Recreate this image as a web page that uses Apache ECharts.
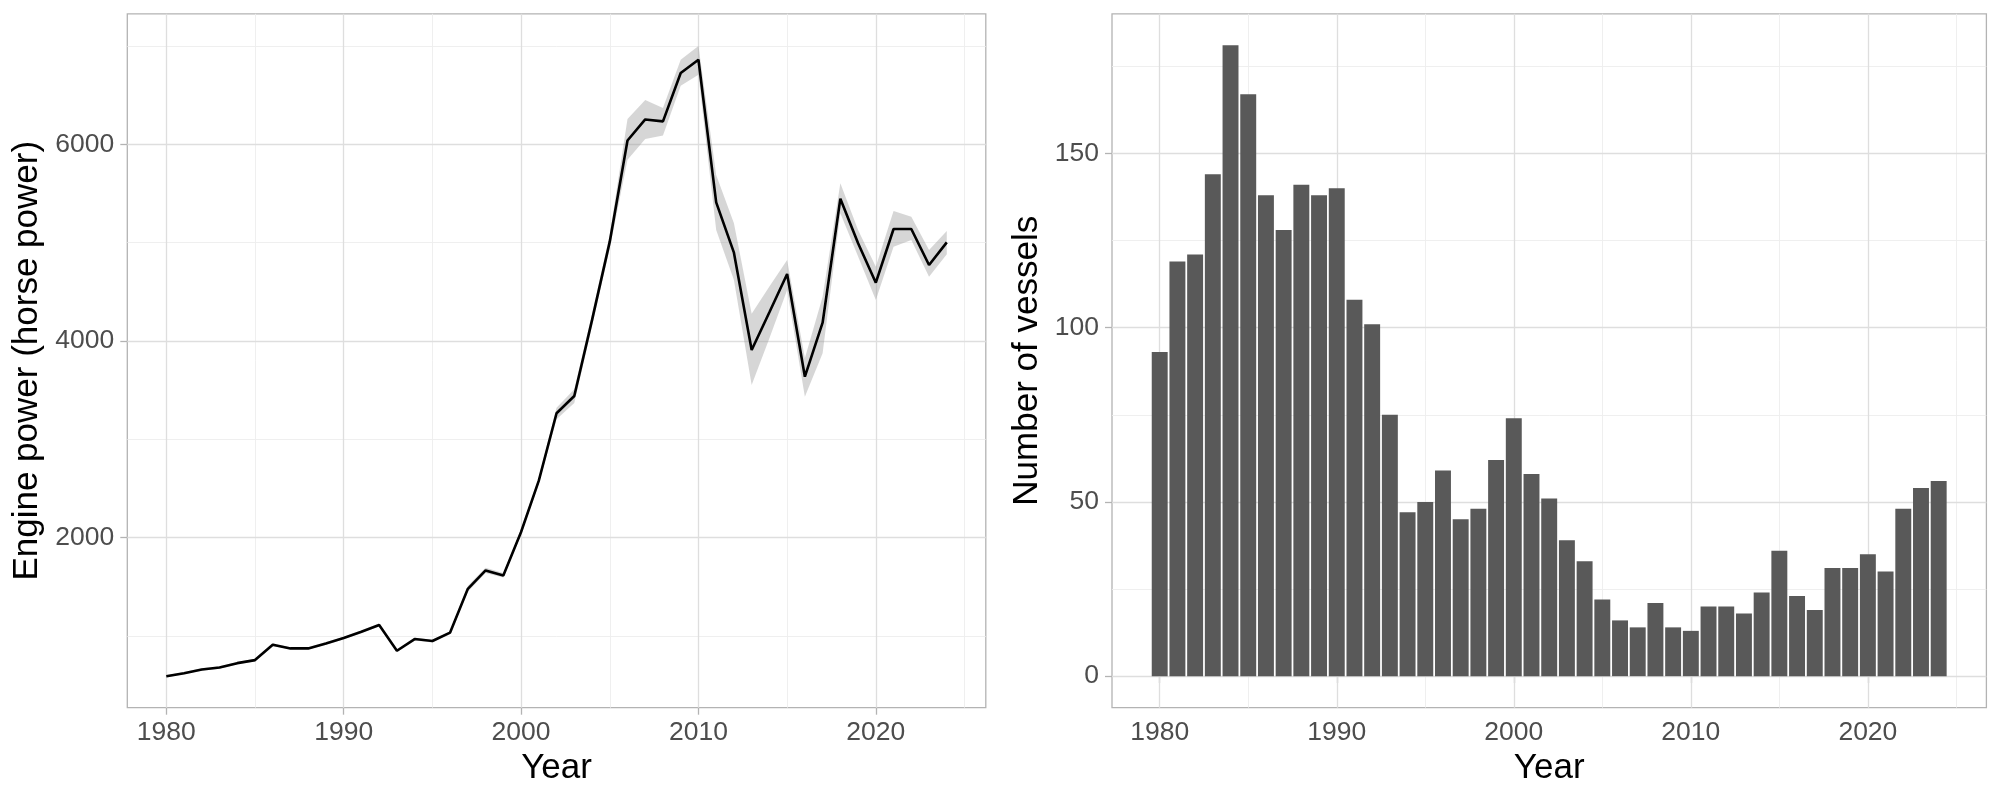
<!DOCTYPE html>
<html><head><meta charset="utf-8">
<script src="https://cdn.jsdelivr.net/npm/echarts@6/dist/echarts.min.js"></script>
<style>html,body{margin:0;padding:0;background:#fff}#c{width:2000px;height:800px}</style>
</head><body><div id="c"></div>
<script>
const years = [1980,1981,1982,1983,1984,1985,1986,1987,1988,1989,1990,1991,1992,1993,1994,1995,1996,1997,1998,1999,2000,2001,2002,2003,2004,2005,2006,2007,2008,2009,2010,2011,2012,2013,2014,2015,2016,2017,2018,2019,2020,2021,2022,2023,2024];
const enginePower = [590,622,660,680,724,755,912,874,874,925,980,1044,1112,850,969,949,1035,1480,1667,1616,2058,2580,3265,3440,4212,5010,6039,6253,6233,6725,6860,5410,4898,3908,4292,4681,3637,4186,5447,4993,4593,5139,5139,4773,5003];
const powerLower = [578,610,648,668,712,742,898,862,862,912,967,1030,1097,836,955,935,1020,1450,1640,1595,2030,2545,3205,3370,4150,4940,5842,6053,6090,6596,6708,5129,4620,3553,4027,4519,3434,3875,5298,4858,4417,4959,5027,4654,4881];
const powerUpper = [602,634,672,692,736,768,926,886,886,938,993,1058,1127,864,983,963,1050,1510,1695,1640,2085,2615,3320,3510,4275,5080,6256,6450,6368,6861,7000,5688,5197,4278,4553,4824,3825,4451,5603,5129,4756,5322,5264,4925,5119];
const vessels = [93,119,121,144,181,167,138,128,141,138,140,108,101,75,47,50,59,45,48,62,74,58,51,39,33,22,16,14,21,14,13,20,20,18,24,36,23,19,31,31,35,30,48,54,56];

const xMajorTicks = [1980,1990,2000,2010,2020];
const xMinorTicks = [1985,1995,2005,2015,2025];
const powerMajorTicks = [2000,4000,6000];
const powerMinorTicks = [1000,3000,5000,7000];
const vesselMajorTicks = [0,50,100,150];
const vesselMinorTicks = [25,75,125,175];

const FONT = "'Liberation Sans', Arial, sans-serif";
const MAJOR = {color:'#DEDEDE', width:1.3, type:'solid'};
const MINOR = {color:'#EDEDED', width:0.9, type:'solid'};

function gridLineSeries(idx, xMaj, xMin, yMaj, yMin){
  const d = [];
  xMin.forEach(v => d.push({xAxis:v, lineStyle:MINOR}));
  yMin.forEach(v => d.push({yAxis:v, lineStyle:MINOR}));
  xMaj.forEach(v => d.push({xAxis:v, lineStyle:MAJOR}));
  yMaj.forEach(v => d.push({yAxis:v, lineStyle:MAJOR}));
  return {type:'line', xAxisIndex:idx, yAxisIndex:idx, data:[], z:1, silent:true,
    markLine:{silent:true, symbol:['none','none'], z:1, animation:false,
      label:{show:false}, emphasis:{disabled:true}, data:d}};
}

function xAxisCfg(idx, min, max){
  return {type:'value', gridIndex:idx, min:min, max:max,
    name:'Year', nameLocation:'middle', nameGap:43,
    nameTextStyle:{color:'#000', fontSize:35, fontFamily:FONT},
    axisLine:{show:false}, splitLine:{show:false},
    axisTick:{show:true, length:7, customValues:xMajorTicks, lineStyle:{color:'#B3B3B3', width:1.3}},
    axisLabel:{show:true, customValues:xMajorTicks, margin:11, color:'#4D4D4D', fontSize:26.5, fontFamily:FONT,
      formatter: v => String(v)}};
}
function yAxisCfg(idx, min, max, ticks, name, gap){
  return {type:'value', gridIndex:idx, min:min, max:max,
    name:name, nameLocation:'middle', nameGap:gap,
    nameTextStyle:{color:'#000', fontSize:35, fontFamily:FONT},
    axisLine:{show:false}, splitLine:{show:false},
    axisTick:{show:true, length:7, customValues:ticks, lineStyle:{color:'#B3B3B3', width:1.3}},
    axisLabel:{show:true, customValues:ticks, margin:13, color:'#4D4D4D', fontSize:26.5, fontFamily:FONT,
      formatter: v => String(v)}};
}

const chart = echarts.init(document.getElementById('c'), null, {renderer:'canvas'});
chart.setOption({
  animation:false,
  backgroundColor:'#fff',
  grid:[
    {left:127.3, top:13.8, width:858.5, height:693.9, show:true, borderColor:'#B3B3B3', borderWidth:1.3, backgroundColor:'transparent', containLabel:false, outerBoundsMode:'none'},
    {left:1112, top:13.8, width:874.4, height:693.9, show:true, borderColor:'#B3B3B3', borderWidth:1.3, backgroundColor:'transparent', containLabel:false, outerBoundsMode:'none'}
  ],
  xAxis:[ xAxisCfg(0, 1977.8, 2026.2), xAxisCfg(1, 1977.305, 2026.695) ],
  yAxis:[ yAxisCfg(0, 271, 7327, powerMajorTicks, 'Engine power (horse power)', 82.5),
          yAxisCfg(1, -9.05, 190.05, vesselMajorTicks, 'Number of vessels', 67.5) ],
  series:[
    gridLineSeries(0, xMajorTicks, xMinorTicks, powerMajorTicks, powerMinorTicks),
    gridLineSeries(1, xMajorTicks, xMinorTicks, vesselMajorTicks, vesselMinorTicks),
    {type:'custom', xAxisIndex:0, yAxisIndex:0, z:2, silent:true,
      data:[[years[0], powerLower[0]]], encode:{x:0, y:1},
      renderItem:function(params, api){
        if (params.dataIndex !== 0) return null;
        const pts = [];
        for (let i = 0; i < years.length; i++) pts.push(api.coord([years[i], powerUpper[i]]));
        for (let i = years.length - 1; i >= 0; i--) pts.push(api.coord([years[i], powerLower[i]]));
        return {type:'polygon', shape:{points:pts}, style:{fill:'rgba(153,153,153,0.4)'}};
      }},
    {type:'line', xAxisIndex:0, yAxisIndex:0, z:3, showSymbol:false, symbol:'none',
      data: years.map((y,i) => [y, enginePower[i]]),
      lineStyle:{color:'#000', width:2.6}},
    {type:'bar', xAxisIndex:1, yAxisIndex:1, z:2, barWidth:'90%',
      data: years.map((y,i) => [y, vessels[i]]),
      itemStyle:{color:'#595959'}}
  ]
});
</script>
</body></html>
